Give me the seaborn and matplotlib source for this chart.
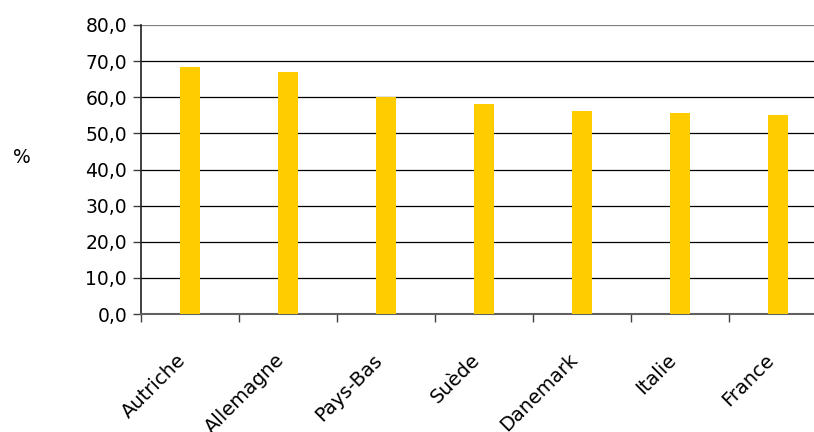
import matplotlib
matplotlib.use("Agg")
import matplotlib.pyplot as plt
import matplotlib.transforms as mtransforms
import seaborn as sns
import pandas as pd
from matplotlib.ticker import FuncFormatter, FixedLocator

pays = ["Autriche", "Allemagne", "Pays-Bas", "Suède", "Danemark", "Italie", "France"]
valeurs = [68.3, 67.0, 60.2, 58.1, 56.1, 55.6, 55.0]
graduations = [0, 10, 20, 30, 40, 50, 60, 70, 80]

sns.set_theme(style="white")
plt.rcParams["font.family"] = ["DejaVu Sans"]

df = pd.DataFrame({"pays": pays, "valeur": valeurs})

fig = plt.figure(figsize=(8.14, 4.32), dpi=100)
ax = fig.add_axes([141 / 814, 1 - 314 / 432, 686 / 814, 289 / 432])

sns.barplot(data=df, x="pays", y="valeur", color="#FFCC00", saturation=1,
            width=0.2, linewidth=0, ax=ax, zorder=3)

ax.set_ylim(0, 80)
ax.set_xlim(-0.5, len(pays) - 0.5)
ax.yaxis.set_major_locator(FixedLocator(graduations))
ax.yaxis.set_major_formatter(FuncFormatter(lambda v, _: f"{v:.1f}".replace(".", ",")))
ax.grid(axis="y", color="#000000", linewidth=0.9, zorder=0)
ax.set_axisbelow(True)
ax.get_ygridlines()[-1].set_color("#808080")

# ticks between categories, labels centred under the bars
ax.set_xticks(range(len(pays)))
ax.set_xticklabels(pays, rotation=45, ha="right", va="center",
                   rotation_mode="anchor", fontsize=14)
ax.set_xticks([i - 0.5 for i in range(len(pays) + 1)], minor=True)
ax.tick_params(axis="x", which="major", length=0, pad=31)
ax.tick_params(axis="x", which="minor", length=6, width=1, color="#404040",
               direction="out", bottom=True)
ax.tick_params(axis="y", length=6, width=1, color="#404040", direction="out",
               labelsize=13.5, pad=4, left=True, labelcolor="#000000")
ax.tick_params(axis="x", labelcolor="#000000")

shift = mtransforms.ScaledTranslation(-0.07, 0, fig.dpi_scale_trans)
for lab in ax.get_xticklabels():
    lab.set_transform(lab.get_transform() + shift)

for side in ("top", "right"):
    ax.spines[side].set_visible(False)
ax.spines["left"].set_color("#202020")
ax.spines["left"].set_linewidth(1.2)
ax.spines["bottom"].set_color("#606060")
ax.spines["bottom"].set_linewidth(1.5)

ax.set_xlabel("")
ax.set_ylabel("%", rotation=0, fontsize=13.5, va="center", ha="center",
              color="#000000")
ax.yaxis.set_label_coords(-0.173, 0.54)

fig.savefig("out.png", dpi=100)
